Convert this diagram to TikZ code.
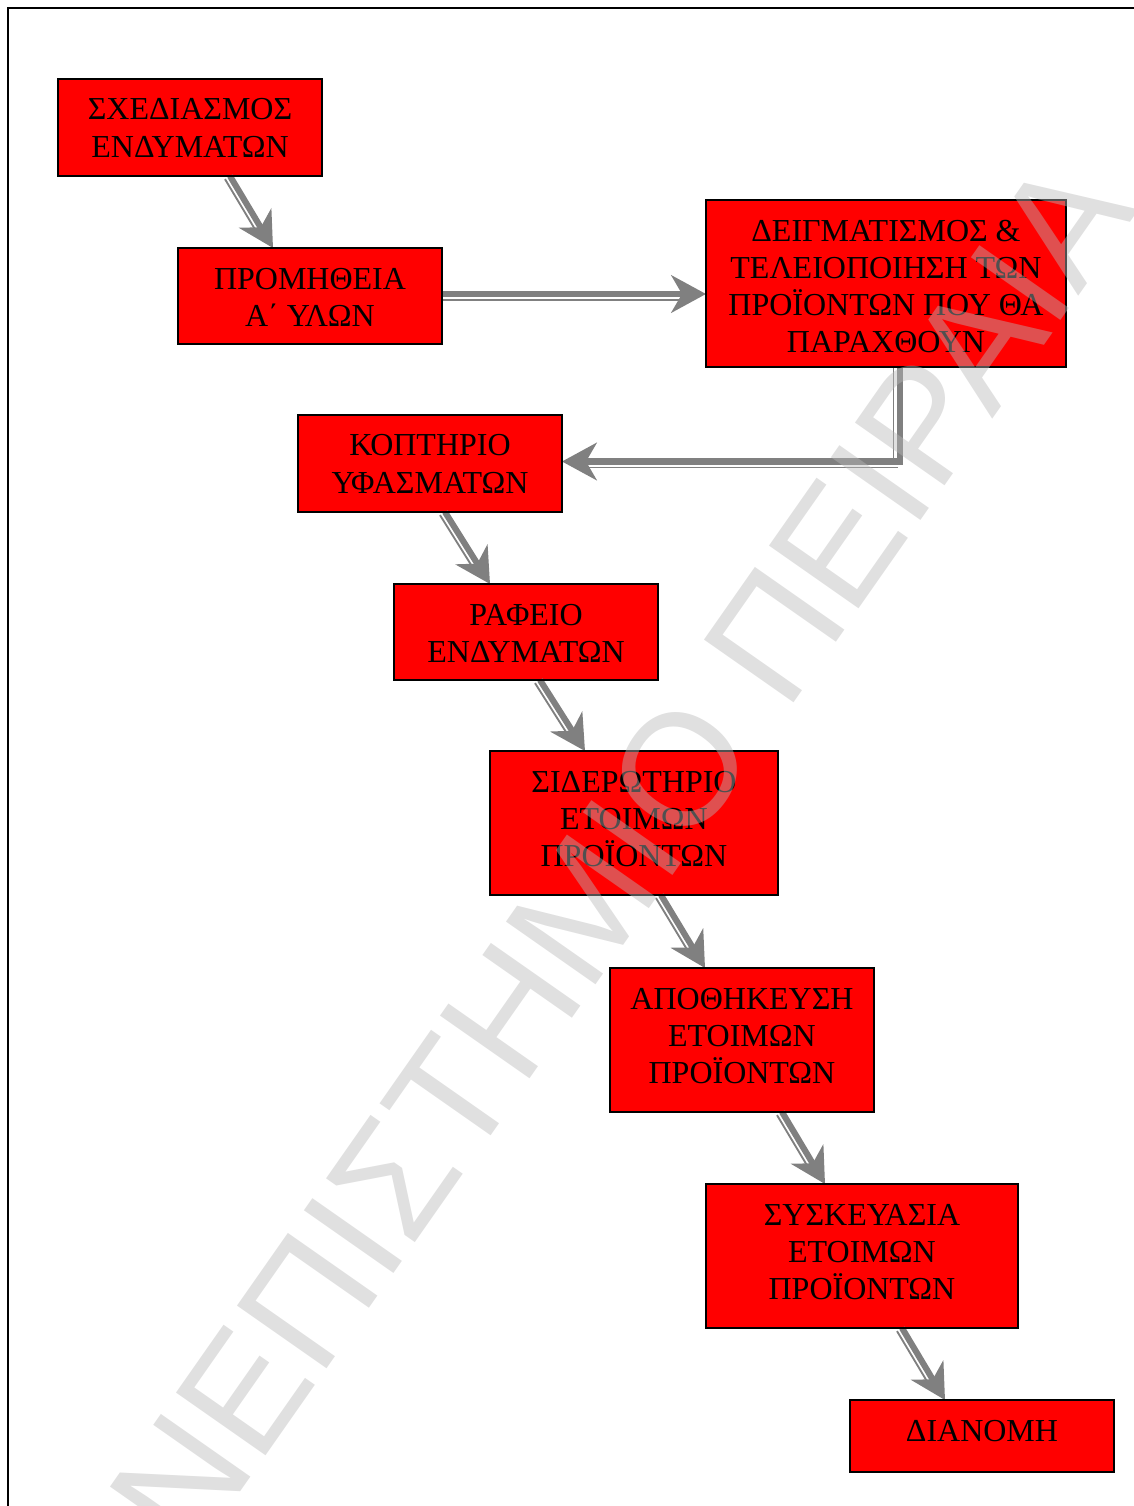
\documentclass[tikz,border=0pt]{standalone}
\usepackage{fontspec}
\setmainfont{Liberation Serif}
\newfontfamily\wmfont{Liberation Sans}
\usetikzlibrary{arrows.meta,calc}
\definecolor{boxred}{RGB}{255,0,0}
\definecolor{flowgray}{RGB}{128,128,128}
\definecolor{wmgray}{RGB}{184,184,184}
% centred, top-aligned lines of a stage label
\newcommand{\stagelines}[1]{\parbox[t]{160pt}{\centering #1}}
\begin{document}
\begin{tikzpicture}[x=0.375pt,y=-0.375pt,
  stagebox/.style={draw=black, line width=0.75pt, fill=boxred, inner sep=0pt, outer sep=0pt},
  stagetext/.style={inner sep=0pt, anchor=base, font=\fontsize{12}{13.9}\selectfont},
  flowmain/.style={draw=flowgray, line width=2.3pt, -{Stealth[length=13pt,width=14pt,inset=4pt]}},
  flowthin/.style={draw=flowgray, line width=0.7pt},
  flowthindiag/.style={flowthin, shorten >=8pt, transform canvas={shift={(-5,3.1)}}},
]
\useasboundingbox (0,0) rectangle (1134,1506);

% page frame
\begin{scope}
  \clip (0,0) rectangle (1134,1506);
  \draw[line width=0.75pt] (8,8) rectangle (1200,1600);
\end{scope}

% stage boxes
\node[stagebox, minimum width=99pt,  minimum height=36.4pt] (b1) at (190,127.5) {};
\node[stagebox, minimum width=99pt,  minimum height=36pt]   (b2) at (310,296) {};
\node[stagebox, minimum width=135pt, minimum height=62.6pt] (b3) at (886,283.5) {};
\node[stagebox, minimum width=99pt,  minimum height=36.4pt] (b4) at (430,463.5) {};
\node[stagebox, minimum width=99pt,  minimum height=36pt]   (b5) at (526,632) {};
\node[stagebox, minimum width=108pt, minimum height=54pt]   (b6) at (634,823) {};
\node[stagebox, minimum width=99pt,  minimum height=54pt]   (b7) at (742,1040) {};
\node[stagebox, minimum width=117pt, minimum height=54pt]   (b8) at (862,1256) {};
\node[stagebox, minimum width=99pt,  minimum height=27pt]   (b9) at (982,1436) {};

% connectors: thin companion line first, then the main shaft with its head
\draw[flowthindiag] ($(b1.south)+(40,0)$) -- ($(b2.north)+(-37,0)$);
\draw[flowmain]     ($(b1.south)+(40,0)$) -- ($(b2.north)+(-37,0)$);

\draw[flowthin, shorten >=8pt] ($(b2.east)+(0,4)$) -- ($(b3.west |- b2.east)+(0,4)$);
\draw[flowmain] ($(b2.east)+(0,-2)$) -- ($(b3.west |- b2.east)+(0,-2)$);

\draw[flowthin] ($(b3.south)+(7.5,0)$) -- ($(b3.south |- b4.east)+(7.5,-5)$);
\draw[flowthin, shorten >=8pt] ($(b3.south |- b4.east)+(12,4)$) -- ($(b4.east)+(0,4)$);
\draw[flowmain] ($(b3.south)+(14,0)$) |- ($(b4.east)+(0,-2)$);

\draw[flowthindiag] ($(b4.south)+(15,0)$) -- ($(b5.north)+(-36,0)$);
\draw[flowmain]     ($(b4.south)+(15,0)$) -- ($(b5.north)+(-36,0)$);

\draw[flowthindiag] ($(b5.south)+(14,0)$) -- ($(b6.north)+(-49,0)$);
\draw[flowmain]     ($(b5.south)+(14,0)$) -- ($(b6.north)+(-49,0)$);

\draw[flowthindiag] ($(b6.south)+(27,0)$) -- ($(b7.north)+(-37,0)$);
\draw[flowmain]     ($(b6.south)+(27,0)$) -- ($(b7.north)+(-37,0)$);

\draw[flowthindiag] ($(b7.south)+(40,0)$) -- ($(b8.north)+(-37,0)$);
\draw[flowmain]     ($(b7.south)+(40,0)$) -- ($(b8.north)+(-37,0)$);

\draw[flowthindiag] ($(b8.south)+(40,0)$) -- ($(b9.north)+(-37,0)$);
\draw[flowmain]     ($(b8.south)+(40,0)$) -- ($(b9.north)+(-37,0)$);

% redraw the boxes' borders over the shaft ends
\foreach \b in {b1,b2,b3,b4,b5,b6,b7,b8,b9}
  \draw[line width=0.75pt] (\b.south west) rectangle (\b.north east);

% stage labels
\node[stagetext] (t1) at ($(b1.north)+(0,41)$) {\stagelines{ΣΧΕΔΙΑΣΜΟΣ\\ΕΝΔΥΜΑΤΩΝ}};
\node[stagetext] (t2) at ($(b2.north)+(0,41)$) {\stagelines{ΠΡΟΜΗΘΕΙΑ\\Α΄ ΥΛΩΝ}};
\node[stagetext] (t3) at ($(b3.north)+(0,41)$) {\stagelines{ΔΕΙΓΜΑΤΙΣΜΟΣ \&\\ΤΕΛΕΙΟΠΟΙΗΣΗ ΤΩΝ\\ΠΡΟΪΟΝΤΩΝ ΠΟΥ ΘΑ\\ΠΑΡΑΧΘΟΥΝ}};
\node[stagetext] (t4) at ($(b4.north)+(0,41)$) {\stagelines{ΚΟΠΤΗΡΙΟ\\ΥΦΑΣΜΑΤΩΝ}};
\node[stagetext] (t5) at ($(b5.north)+(0,41)$) {\stagelines{ΡΑΦΕΙΟ\\ΕΝΔΥΜΑΤΩΝ}};
\node[stagetext] (t6) at ($(b6.north)+(0,41)$) {\stagelines{ΣΙΔΕΡΩΤΗΡΙΟ\\ΕΤΟΙΜΩΝ\\ΠΡΟΪΟΝΤΩΝ}};
\node[stagetext] (t7) at ($(b7.north)+(0,41)$) {\stagelines{ΑΠΟΘΗΚΕΥΣΗ\\ΕΤΟΙΜΩΝ\\ΠΡΟΪΟΝΤΩΝ}};
\node[stagetext] (t8) at ($(b8.north)+(0,41)$) {\stagelines{ΣΥΣΚΕΥΑΣΙΑ\\ΕΤΟΙΜΩΝ\\ΠΡΟΪΟΝΤΩΝ}};
\node[stagetext] (t9) at ($(b9.north)+(0,41)$) {\stagelines{ΔΙΑΝΟΜΗ}};

% translucent diagonal watermark
\begin{scope}
  \clip (0,0) rectangle (1134,1506);
  \node[font=\wmfont\fontsize{59.6}{60}\selectfont, text=wmgray, text opacity=0.44,
        rotate=55, anchor=base west, inner sep=0pt] (wm) at (66,1742) {ΠΑΝΕΠΙΣΤΗΜΙΟ ΠΕΙΡΑΙΑ};
\end{scope}
\end{tikzpicture}
\end{document}
